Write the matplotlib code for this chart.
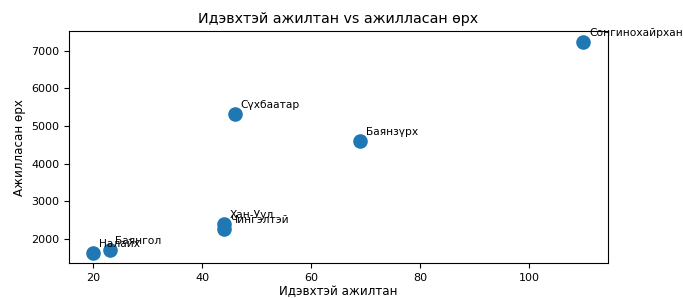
import matplotlib
matplotlib.use("Agg")
import matplotlib.pyplot as plt

districts = ["Налайх", "Баянгол", "Хан-Уул", "Чингэлтэй", "Сүхбаатар", "Баянзүрх", "Сонгинохайрхан"]
employees = [20, 23, 44, 44, 46, 69, 110]
tasks = [1630, 1700, 2400, 2260, 5320, 4600, 7250]


def main() -> None:
    fig = plt.figure(figsize=(6.83, 2.98), dpi=100)
    ax = fig.add_axes([0.101, 0.117, 0.789, 0.779])

    ax.scatter(employees, tasks, s=90, color="#1f77b4")
    for name, x, y in zip(districts, employees, tasks):
        ax.annotate(name, (x, y), xytext=(4, 4), textcoords="offset points", fontsize=7.7)

    ax.set_title("Идэвхтэй ажилтан vs ажилласан өрх", fontsize=10.3)
    ax.set_xlabel("Идэвхтэй ажилтан", fontsize=8.6, labelpad=1.5)
    ax.set_ylabel("Ажилласан өрх", fontsize=8.6)
    ax.tick_params(labelsize=8)

    fig.savefig("out.png", dpi=100)
    plt.close(fig)


if __name__ == "__main__":
    main()
